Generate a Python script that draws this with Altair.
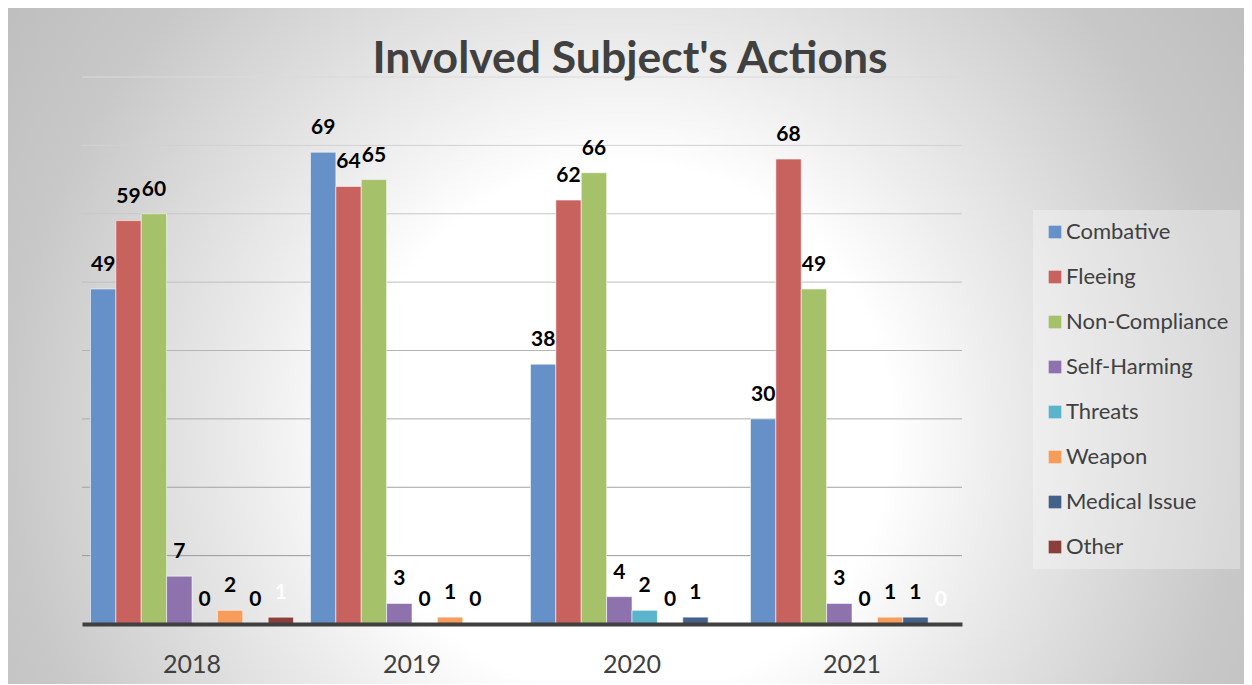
import altair as alt
import pandas as pd

years = ["2018", "2019", "2020", "2021"]
series = ["Combative", "Fleeing", "Non-Compliance", "Self-Harming",
          "Threats", "Weapon", "Medical Issue", "Other"]
combative = [49, 69, 38, 30]
fleeing = [59, 64, 62, 68]
non_compliance = [60, 65, 66, 49]
self_harming = [7, 3, 4, 3]
threats = [0, 0, 2, 0]
weapon = [2, 1, 0, 1]
medical_issue = [0, 0, 1, 1]
other = [1, 0, 0, 0]
grid_values = [10, 20, 30, 40, 50, 60, 70, 80]

colors = ["#6591c8", "#c8625f", "#a5c26a", "#8e72ad",
          "#5ab4cc", "#f79c5a", "#44618a", "#8b3f3d"]

columns = [combative, fleeing, non_compliance, self_harming,
           threats, weapon, medical_issue, other]
rows = []
for s, vals in zip(series, columns):
    for y, v in zip(years, vals):
        rows.append({"year": y, "series": s, "value": v})
df = pd.DataFrame(rows)
grid_df = pd.DataFrame({"value": grid_values})

FONT = "Lato"
TEXT = "#404040"

# background (radial gradient over the whole chart area)
bg = alt.Chart(alt.Data(values=[{"k": 1}])).mark_rect(
    fill={
        "gradient": "radial",
        "x1": 0.5, "y1": 0.5, "r1": 0,
        "x2": 0.5, "y2": 0.5, "r2": 0.5,
        "stops": [
            {"offset": 0.0, "color": "#ffffff"},
            {"offset": 0.34, "color": "#ffffff"},
            {"offset": 0.47, "color": "#eeeeee"},
            {"offset": 0.79, "color": "#c8c8c8"},
            {"offset": 1.0, "color": "#bcbcbc"},
        ],
    },
    strokeWidth=0,
).encode(
    x=alt.value(-237), x2=alt.value(1323),
    y=alt.value(-427), y2=alt.value(1133),
)

y_scale = alt.Scale(domain=[0, 80], nice=False, zero=True)

grid = alt.Chart(grid_df).mark_rule(strokeWidth=1).encode(
    y=alt.Y("value:Q", scale=y_scale, axis=None),
    stroke=alt.Stroke("value:Q",
                      scale=alt.Scale(domain=[10, 80], range=["#9a9a9a", "#dadada"]),
                      legend=None),
)

x_enc = alt.X(
    "year:N", sort=years,
    scale=alt.Scale(paddingInner=0.077, paddingOuter=0.0385),
    axis=alt.Axis(title=None, labelAngle=0, ticks=False, grid=False,
                  domainColor=TEXT, domainWidth=4, zindex=1,
                  labelFont=FONT, labelFontSize=25, labelColor=TEXT,
                  labelPadding=48, labelBaseline="alphabetic"),
)
xo_enc = alt.XOffset("series:N", sort=series,
                     scale=alt.Scale(paddingInner=0, paddingOuter=0))

bars = alt.Chart(df).mark_bar(stroke="white", strokeWidth=1, strokeOpacity=0.55).encode(
    x=x_enc,
    xOffset=xo_enc,
    y=alt.Y("value:Q", scale=y_scale, axis=None),
    color=alt.Color(
        "series:N", sort=series,
        scale=alt.Scale(domain=series, range=colors),
        legend=alt.Legend(
            title=None, orient="none", legendX=951, legendY=133,
            padding=11, fillColor="rgba(255,255,255,0.3)",
            symbolType="square", symbolSize=160, symbolStrokeWidth=0,
            symbolOpacity=1,
            labelFont=FONT, labelFontSize=22, labelColor=TEXT,
            labelOffset=0, rowPadding=23, labelLimit=300,
        ),
    ),
)

labels = alt.Chart(df).mark_text(
    font=FONT, fontSize=21, fontWeight="bold",
    baseline="alphabetic", align="center", dy=-18,
).encode(
    x=alt.X("year:N", sort=years),
    xOffset=alt.XOffset("series:N", sort=series),
    y=alt.Y("value:Q", scale=y_scale),
    text=alt.Text("value:Q"),
    color=alt.condition(alt.datum.series == "Other",
                        alt.value("#ffffff"), alt.value("#000000")),
)

title = alt.Chart(alt.Data(values=[{"k": 1}])).mark_text(
    text="Involved Subject's Actions",
    font=FONT, fontSize=44.5, fontWeight="bold", color=TEXT,
    align="center", baseline="alphabetic",
).encode(x=alt.value(548), y=alt.value(-4))

chart = alt.layer(bg, grid, bars, labels, title).resolve_scale(
    color="independent"
).properties(
    width=880, height=547,
    padding={"left": 74, "top": 69, "right": 282, "bottom": 60},
    autosize=alt.AutoSizeParams(type="none"),
).configure(background="#ffffff").configure_view(stroke=None)

chart.save("out.html", embed_options={"renderer": "svg", "actions": False})
